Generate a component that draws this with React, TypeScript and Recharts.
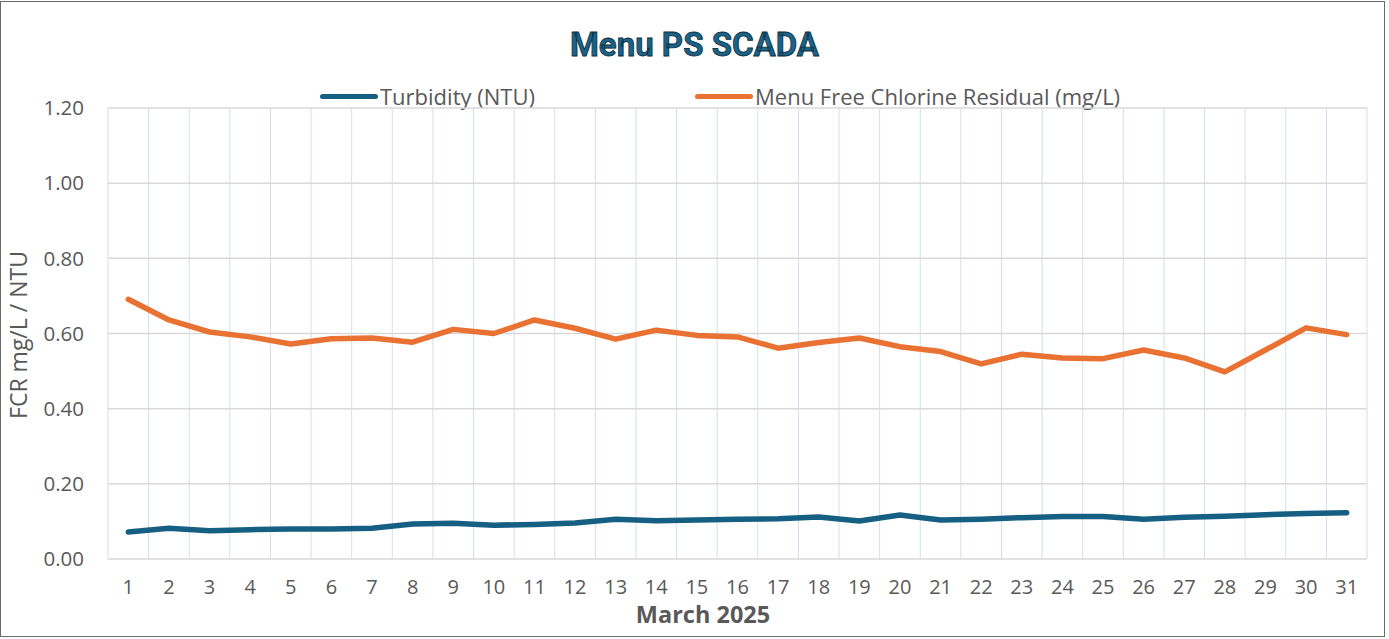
import React from "react";
import { LineChart, Line, XAxis, YAxis, CartesianGrid, Label } from "recharts";

const title = "Menu PS SCADA";
const xAxisTitle = "March 2025";
const yAxisTitle = "FCR mg/L / NTU";

const days = [1, 2, 3, 4, 5, 6, 7, 8, 9, 10, 11, 12, 13, 14, 15, 16, 17, 18, 19, 20, 21, 22, 23, 24, 25, 26, 27, 28, 29, 30, 31];

const turbidity = [0.072, 0.082, 0.075, 0.078, 0.080, 0.080, 0.082, 0.093, 0.095, 0.090, 0.092, 0.096, 0.106, 0.102, 0.104, 0.106, 0.107, 0.112, 0.101, 0.117, 0.104, 0.106, 0.110, 0.113, 0.113, 0.106, 0.111, 0.114, 0.118, 0.121, 0.123];

const chlorine = [0.691, 0.636, 0.604, 0.591, 0.572, 0.586, 0.588, 0.577, 0.611, 0.600, 0.636, 0.614, 0.585, 0.609, 0.595, 0.591, 0.561, 0.576, 0.588, 0.565, 0.552, 0.519, 0.545, 0.535, 0.533, 0.556, 0.535, 0.498, 0.556, 0.615, 0.597];

const seriesNames = ["Turbidity (NTU)", "Menu Free Chlorine Residual (mg/L)"];
const seriesKeys = ["turbidity", "chlorine"];
const seriesColors = ["#156082", "#E97132"];

const yTicks = [0, 0.2, 0.4, 0.6, 0.8, 1.0, 1.2];

const data = days.map((d, i) => ({ day: d, turbidity: turbidity[i], chlorine: chlorine[i] }));
const gridTicks = [days[0] - 0.5, ...days.map((d) => d + 0.5)];

const FONT = "'Open Sans', Roboto, sans-serif";
const TITLE_FONT = "Roboto, 'Open Sans', sans-serif";
const TEXT = "#595959";

export default function App() {
  return (
    <div style={{ position: "absolute", left: 0, top: 0, width: 1389, height: 639, background: "#fff", fontFamily: FONT }}>
      <div
        style={{
          position: "absolute",
          left: 0,
          top: 1,
          width: 1385,
          height: 636,
          border: "1.5px solid #6b6b6b",
          boxSizing: "border-box",
        }}
      />
      <div
        style={{
          position: "absolute",
          left: 0,
          width: 1389,
          top: 24,
          textAlign: "center",
          fontFamily: TITLE_FONT,
          fontSize: 33,
          fontWeight: 700,
          color: "#1b6286",
          WebkitTextStroke: "0.8px #0b2d40",
          lineHeight: "42px",
        }}
      >
        {title}
      </div>
      {seriesNames.map((name, i) => (
        <div
          key={name}
          style={{
            position: "absolute",
            left: i === 0 ? 320 : 695,
            top: 82,
            height: 28,
            display: "flex",
            alignItems: "center",
            fontSize: 22,
            color: TEXT,
            whiteSpace: "nowrap",
          }}
        >
          <span style={{ display: "inline-block", width: 58, height: 5, borderRadius: 3, background: seriesColors[i], marginRight: 2 }} />
          <span>{name}</span>
        </div>
      ))}
      <LineChart
        width={1389}
        height={639}
        data={data}
        margin={{ top: 108, right: 22, bottom: 0, left: 0 }}
        style={{ position: "absolute", left: 0, top: 0 }}
      >
        <CartesianGrid xAxisId="grid" horizontal={false} stroke="#d3deeb" strokeWidth={1} />
        <CartesianGrid vertical={false} stroke="#d9d9d9" strokeWidth={1.5} />
        <XAxis
          xAxisId="grid"
          type="number"
          dataKey="day"
          domain={[0.5, 31.5]}
          ticks={gridTicks}
          hide
        />
        <XAxis
          type="number"
          dataKey="day"
          domain={[0.5, 31.5]}
          ticks={days}
          interval={0}
          height={80}
          axisLine={false}
          tickLine={false}
          tickSize={0}
          tickMargin={21}
          tick={{ fill: TEXT, fontSize: 20, fontFamily: FONT }}
        >
          <Label
            content={() => (
              <text x={703} y={623} textAnchor="middle" fill={TEXT} fontSize={23.5} fontWeight={700} fontFamily={FONT}>
                {xAxisTitle}
              </text>
            )}
          />
        </XAxis>
        <YAxis
          domain={[0, 1.2]}
          ticks={yTicks}
          width={108}
          axisLine={false}
          tickLine={false}
          tickSize={0}
          tickMargin={24}
          tickFormatter={(v: number) => v.toFixed(2)}
          tick={{ fill: TEXT, fontSize: 20.5, fontFamily: FONT }}
        >
          <Label
            content={() => (
              <text
                x={27}
                y={335}
                transform="rotate(-90 27 335)"
                textAnchor="middle"
                fill={TEXT}
                fontSize={23}
                fontFamily={FONT}
              >
                {yAxisTitle}
              </text>
            )}
          />
        </YAxis>
        {seriesKeys.map((k, i) => (
          <Line
            key={k}
            type="linear"
            dataKey={k}
            name={seriesNames[i]}
            stroke={seriesColors[i]}
            strokeWidth={5.5}
            strokeLinecap="round"
            strokeLinejoin="round"
            dot={false}
            activeDot={false}
            isAnimationActive={false}
          />
        ))}
      </LineChart>
    </div>
  );
}
